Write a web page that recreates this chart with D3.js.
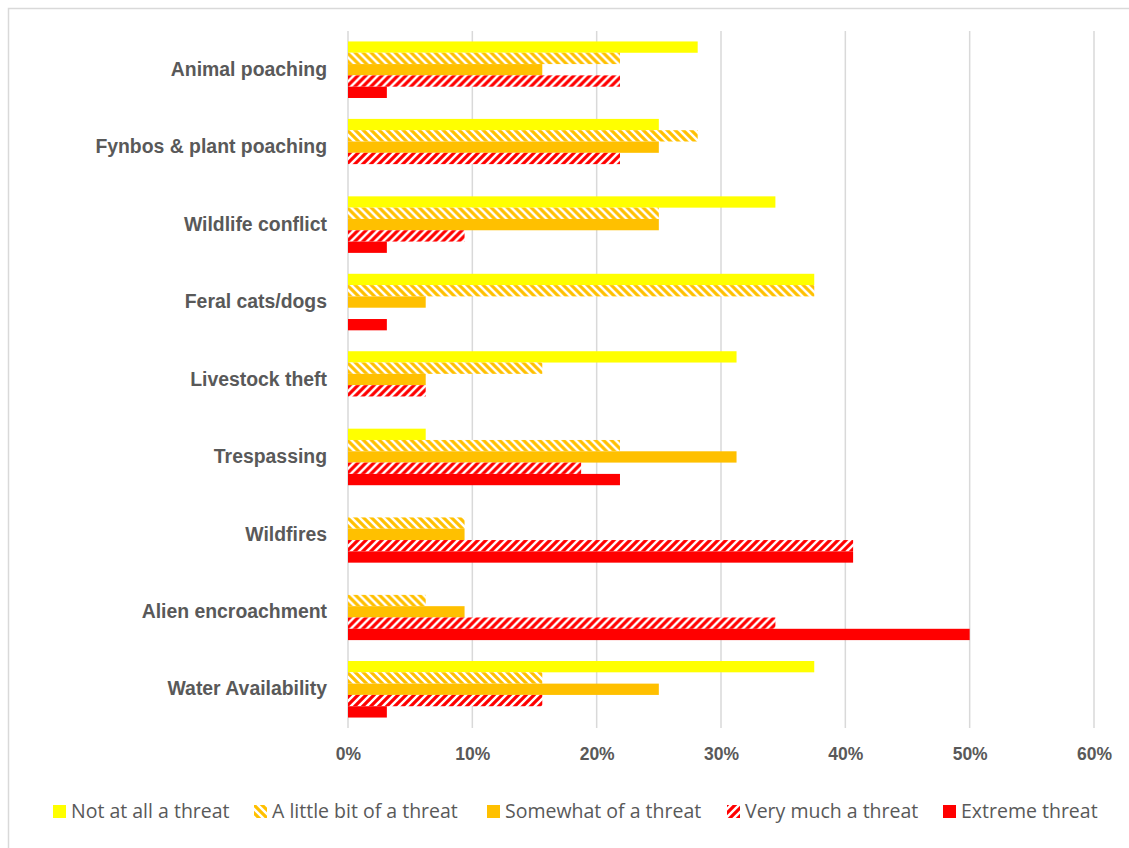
<!DOCTYPE html>
<html>
<head>
<meta charset="utf-8">
<script src="https://cdn.jsdelivr.net/npm/d3@7/dist/d3.min.js"></script>
<style>
  html, body { margin: 0; padding: 0; background: #fff; }
  svg { display: block; }
</style>
</head>
<body>
<svg id="chart" width="1129" height="848"></svg>
<script>
// Threat categories, top to bottom
const categories = [
  "Animal poaching",
  "Fynbos & plant poaching",
  "Wildlife conflict",
  "Feral cats/dogs",
  "Livestock theft",
  "Trespassing",
  "Wildfires",
  "Alien encroachment",
  "Water Availability"
];

// Series names (legend order)
const seriesNames = [
  "Not at all a threat",
  "A little bit of a threat",
  "Somewhat of a threat",
  "Very much a threat",
  "Extreme threat"
];

// Share of respondents per category, one array per series
const notAtAll   = [0.28125, 0.25,    0.34375, 0.375,  0.3125, 0.0625,  0,       0,       0.375];
const littleBit  = [0.21875, 0.28125, 0.25,    0.375,  0.15625, 0.21875, 0.09375, 0.0625,  0.15625];
const somewhat   = [0.15625, 0.25,    0.25,    0.0625, 0.0625, 0.3125,  0.09375, 0.09375, 0.25];
const veryMuch   = [0.21875, 0.21875, 0.09375, 0,      0.0625, 0.1875,  0.40625, 0.34375, 0.15625];
const extreme    = [0.03125, 0,       0.03125, 0.03125, 0,     0.21875, 0.40625, 0.5,     0.03125];

const xTicks = [0, 0.1, 0.2, 0.3, 0.4, 0.5, 0.6];

const seriesValues = [notAtAll, littleBit, somewhat, veryMuch, extreme];
const fills = ["#FFFF00", "url(#hatchOrange)", "#FFC000", "url(#hatchRed)", "#FF0000"];

const svg = d3.select("#chart");

// Hatch patterns
const defs = svg.append("defs");
function hatch(id, color, downward) {
  const p = defs.append("pattern")
    .attr("id", id)
    .attr("patternUnits", "userSpaceOnUse")
    .attr("width", 8).attr("height", 8);
  p.append("rect").attr("width", 8).attr("height", 8).attr("fill", "#fff");
  const d = downward
    ? "M-2,-2 L10,10 M-2,6 L2,10 M6,-2 L10,2"
    : "M-2,10 L10,-2 M-2,2 L2,-2 M6,10 L10,6";
  p.append("path").attr("d", d).attr("stroke", color).attr("stroke-width", 3.2).attr("fill", "none");
}
hatch("hatchOrange", "#FFC000", true);
hatch("hatchRed", "#FF0000", false);

// Outer frame
svg.append("rect")
  .attr("x", 8.5).attr("y", 8.5)
  .attr("width", 1140).attr("height", 860)
  .attr("fill", "none").attr("stroke", "#d9d9d9").attr("stroke-width", 1.5);

const x = d3.scaleLinear().domain([0, 0.6]).range([348, 1094]);
const y = d3.scaleBand().domain(categories).range([31, 728]).paddingInner(0.27).paddingOuter(0.135);
const ySub = d3.scaleBand().domain(d3.range(seriesNames.length)).range([0, y.bandwidth()]);

// Gridlines
svg.append("g")
  .selectAll("line")
  .data(xTicks)
  .join("line")
  .attr("x1", d => x(d)).attr("x2", d => x(d))
  .attr("y1", 31).attr("y2", 728)
  .attr("stroke", "#d9d9d9").attr("stroke-width", 1.5);

// Bars
const groups = svg.append("g")
  .selectAll("g")
  .data(categories)
  .join("g")
  .attr("transform", d => `translate(0,${y(d)})`);

groups.selectAll("rect")
  .data((c, i) => seriesValues.map((vals, s) => ({ s, v: vals[i] })))
  .join("rect")
  .attr("x", x(0))
  .attr("y", d => ySub(d.s))
  .attr("width", d => x(d.v) - x(0))
  .attr("height", ySub.bandwidth())
  .attr("fill", d => fills[d.s]);

// Category axis (labels only)
const yAxis = svg.append("g")
  .attr("transform", "translate(336,0)")
  .call(d3.axisLeft(y).tickSize(0).tickPadding(9));
yAxis.select(".domain").remove();
yAxis.selectAll("text")
  .attr("font-family", "Liberation Sans, Arial, sans-serif")
  .attr("font-size", 19.4)
  .attr("font-weight", "bold")
  .attr("fill", "#595959");

// Value axis (labels only)
const xAxis = svg.append("g")
  .attr("transform", "translate(0,742)")
  .call(d3.axisBottom(x).tickValues(xTicks).tickFormat(d3.format(".0%")).tickSize(0).tickPadding(6));
xAxis.select(".domain").remove();
xAxis.selectAll("text")
  .attr("font-family", "Liberation Sans, Arial, sans-serif")
  .attr("font-size", 17.5)
  .attr("font-weight", "bold")
  .attr("fill", "#595959");

// Legend
const legendX = [53, 254, 487, 727, 943];
const legend = svg.append("g")
  .selectAll("g")
  .data(seriesNames)
  .join("g")
  .attr("transform", (d, i) => `translate(${legendX[i]},805)`);
legend.append("rect")
  .attr("width", 13).attr("height", 13)
  .attr("fill", (d, i) => fills[i]);
legend.append("text")
  .attr("x", 18).attr("y", 13)
  .attr("font-family", "Open Sans, sans-serif")
  .attr("font-size", 19.5)
  .attr("fill", "#595959")
  .text(d => d);
</script>
</body>
</html>
